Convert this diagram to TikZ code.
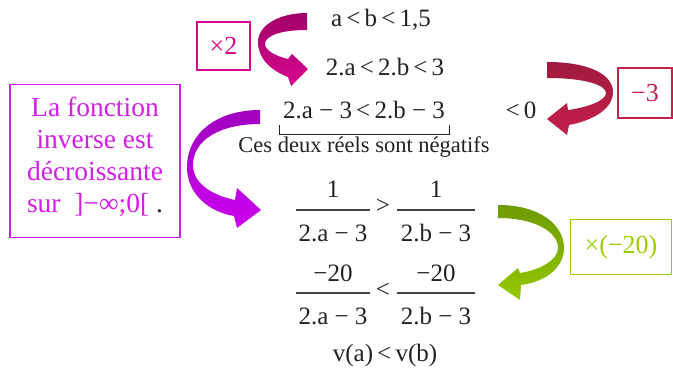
\documentclass[tikz,border=0pt]{standalone}
\usepackage{fontspec}
\setmainfont{Liberation Serif}
\usetikzlibrary{arrows.meta}
\definecolor{ink}{HTML}{222222}
\definecolor{mag}{HTML}{D8068E}
\definecolor{magdark}{HTML}{A00068}
\definecolor{vio}{HTML}{D21EE6}
\definecolor{vioarrow}{HTML}{CC00F0}
\definecolor{viodark}{HTML}{A000C0}
\definecolor{crim}{HTML}{C4204C}
\definecolor{crimdark}{HTML}{A01A3E}
\definecolor{grn}{HTML}{99CC00}
\definecolor{grnarrow}{HTML}{94CA00}
\definecolor{grndark}{HTML}{6E9A00}
\begin{document}
\begin{tikzpicture}[x=1pt,y=-1pt,
  eq/.style={font=\fontsize{25}{28}\selectfont, text=ink, inner sep=0pt},
  small/.style={font=\fontsize{22.5}{26}\selectfont, text=ink, inner sep=0pt},
  opbox/.style={draw, line width=1.6pt, inner sep=0pt, font=\fontsize{26}{30}\selectfont},
  fbar/.style={draw=ink!85, line width=1.6pt}]
\useasboundingbox (0,0) rectangle (673,372);

% equations
\node[eq] (e1) at (381,20) {a\,<\,b\,<\,1,5};
\node[eq] (e2) at (385,67) {2.a\,<\,2.b\,<\,3};
\node[eq] (e3) at (364,110) {2.a − 3\,<\,2.b − 3};
\node[eq] (e4) at (521,110) {<\,0};
\node[small] (ces) at (364,147) {Ces deux réels sont négatifs};
\coordinate (bl) at (279,125);
\coordinate (br) at (449,125);
\draw[ink, line width=1pt] (bl) -- ++(0,9) -| (br);

% first fractions
\node[eq] (n1) at (333,189) {1};
\node[eq] (d1) at (333,233) {2.a − 3};
\node[eq] (n2) at (436,189) {1};
\node[eq] (d2) at (436,233) {2.b − 3};
\node[eq] (gt) at (383,206) {>};
\coordinate (b1l) at (296,210); \coordinate (b1r) at (370,210);
\coordinate (b2l) at (397,210); \coordinate (b2r) at (475,210);
\draw[fbar] (b1l) -- (b1r);
\draw[fbar] (b2l) -- (b2r);

% second fractions
\node[eq] (n3) at (333,273) {−20};
\node[eq] (d3) at (333,316) {2.a − 3};
\node[eq] (n4) at (436,273) {−20};
\node[eq] (d4) at (436,316) {2.b − 3};
\node[eq] (lt) at (383,290) {<};
\coordinate (b3l) at (296,293); \coordinate (b3r) at (370,293);
\coordinate (b4l) at (397,293); \coordinate (b4r) at (475,293);
\draw[fbar] (b3l) -- (b3r);
\draw[fbar] (b4l) -- (b4r);

\node[eq] (v) at (385,355) {v(a)\,<\,v(b)};

% operation boxes
\node[opbox, draw=mag, text=mag, minimum width=53pt, minimum height=48pt] (x2) at (223.5,46) {×2};
\node[opbox, draw=crim, text=crim, minimum width=54pt, minimum height=50pt] (m3) at (645,93) {−3};
\node[opbox, draw=grn, text=grn, minimum width=101pt, minimum height=55pt] (x20) at (621,247) {×(−20)};
\node[draw=vio, line width=1.6pt, minimum width=170pt, minimum height=153pt, inner sep=0pt] (inv) at (95,161) {};
\node[text=vio, align=center, inner sep=0pt, font=\fontsize{27.5}{32}\selectfont] (invtext) at (95,157)
  {La fonction\\inverse est\\décroissante\\sur\ \ ]−∞;0[ \textcolor{ink}{.}};

% curved ribbon arrows
\shade[top color=magdark, middle color=mag, bottom color=mag]
  (307,13) .. controls (278,13) and (258,26) .. (258,42)
  .. controls (258,58) and (270,70) .. (288,77)
  -- (291,86) -- (308,69) -- (292,54) -- (288,59)
  .. controls (275,56) and (265,50) .. (265,44)
  .. controls (265,36) and (280,30) .. (307,30) -- cycle;
\shade[top color=viodark, middle color=vioarrow, bottom color=vioarrow]
  (260,110) .. controls (215,110) and (187,135) .. (187,167)
  .. controls (187,195) and (210,212) .. (234,216)
  -- (237,228) -- (261,210) -- (237,188) -- (235,200)
  .. controls (215,196) and (193,185) .. (193,165)
  .. controls (193,140) and (220,124) .. (260,124) -- cycle;
\shade[top color=crimdark, middle color=crim!85!crimdark, bottom color=crim]
  (547,62) .. controls (590,62) and (613,75) .. (613,92)
  .. controls (613,108) and (595,120) .. (569,125)
  -- (567,135) -- (547,119) -- (567,103) -- (568,110)
  .. controls (590,107) and (606,100) .. (606,93)
  .. controls (606,85) and (585,78) .. (547,78) -- cycle;
\shade[top color=grndark, middle color=grnarrow, bottom color=grnarrow]
  (498,205) .. controls (540,205) and (564,225) .. (564,248)
  .. controls (564,268) and (545,282) .. (521,285)
  -- (520,300) -- (498,285) -- (518,268) -- (520,273)
  .. controls (540,270) and (558,260) .. (558,248)
  .. controls (558,232) and (535,218) .. (498,218) -- cycle;
\end{tikzpicture}
\end{document}
